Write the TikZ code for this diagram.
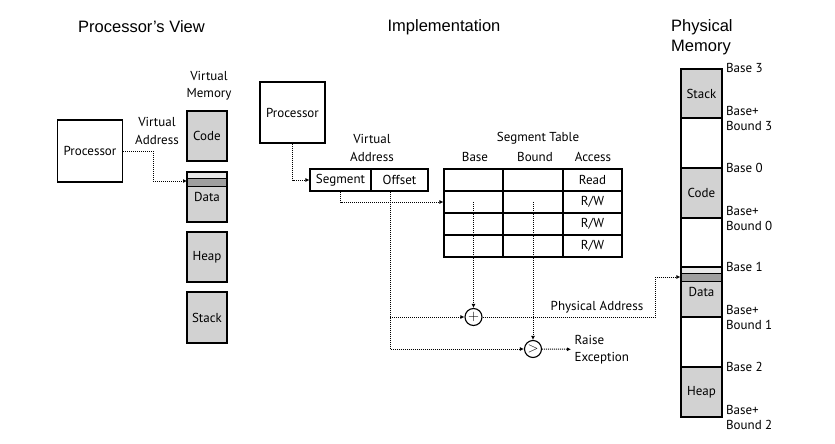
\documentclass[tikz,border=0pt]{standalone}
\usepackage{fontspec}
\setmainfont{PT Sans}
\newfontfamily\titlefont{Liberation Sans}
\usetikzlibrary{arrows.meta}
\tikzstyle{box}=[rectangle, draw, line width=1.1pt, minimum width=65pt, minimum height=62pt, inner sep=0pt]
\tikzstyle{field}=[rectangle, draw, line width=1.1pt, minimum height=22pt, inner sep=0pt]
\tikzstyle{cell}=[rectangle, draw, line width=1.1pt, minimum height=22pt, inner sep=0pt]
\tikzstyle{seg}=[rectangle, draw, fill=gray!35, line width=1.1pt, minimum width=40pt, minimum height=50pt, inner sep=0pt]
\tikzstyle{free}=[seg, fill=white]
\tikzstyle{dataseg}=[seg, path picture={
    \fill[gray!18] (path picture bounding box.north west) rectangle ([yshift=-6pt]path picture bounding box.north east);
    \fill[gray!75] ([yshift=-6pt]path picture bounding box.north west) rectangle ([yshift=-14pt]path picture bounding box.north east);
    \draw[line width=0.6pt] ([yshift=-6pt]path picture bounding box.north west) -- ([yshift=-6pt]path picture bounding box.north east)
      ([yshift=-14pt]path picture bounding box.north west) -- ([yshift=-14pt]path picture bounding box.north east);
  }]
\tikzstyle{op}=[circle, draw, line width=1.1pt, minimum size=17pt, inner sep=0pt]
\tikzstyle{link}=[densely dotted, line width=1pt, -{Latex[length=4pt,width=4pt]}]
\tikzstyle{lbl}=[font=\fontsize{13}{17.5}\selectfont, align=center]
\tikzstyle{mlbl}=[font=\fontsize{13}{14.5}\selectfont, anchor=west, align=left]
\tikzstyle{title}=[font=\titlefont\fontsize{16.5}{20}\selectfont, inner sep=0pt]

\begin{document}
\begin{tikzpicture}[x=1pt, y=-1pt, every node/.style={font=\fontsize{13}{17.5}\selectfont}]
    \useasboundingbox[fill=white] (0,0) rectangle (835,444);

    % headings
    \node[title] (tview) at (141.5,27) {Processor’s View};
    \node[title] (timpl) at (444,27) {Implementation};
    \node[title, anchor=west, align=left] (tphys) at (671,37) {Physical\\Memory};

    % processor's view
    \node[box] (lproc) at (90,151) {Processor};
    \node[lbl] (lva) at (157,131) {Virtual\\Address};
    \node[lbl] (lvm) at (209,85.5) {Virtual\\Memory};
    \node[seg] (vcode) at (207,136) {Code};
    \node[dataseg] (vdata) at (207,197) {\raisebox{-6pt}{Data}};
    \node[seg] (vheap) at (207,257) {Heap};
    \node[seg, minimum height=51pt] (vstack) at (207,317.5) {Stack};
    \coordinate (vin) at (187,181);
    \draw[link] (lproc) -| ([xshift=-34pt]vin) -- (vin);

    % implementation
    \node[box, minimum height=61pt] (mproc) at (292.5,112.5) {Processor};
    \node[lbl] (mva) at (372,148) {Virtual\\Address};
    \node[field, minimum width=61pt] (seg) at (340.5,180) {Segment};
    \node[field, minimum width=57pt] (off) at (399.5,180) {Offset};
    \draw[link] (mproc) |- (seg);

    \node[lbl] (tseg) at (538,138) {Segment Table};
    \node[lbl] (hbase) at (475,157) {Base};
    \node[lbl] (hbound) at (535,157) {Bound};
    \node[lbl] (hacc) at (593,157) {Access};
    \foreach \r/\acc in {1/Read, 2/{R/W}, 3/{R/W}, 4/{R/W}} {
        \node[cell, minimum width=59pt] (b\r) at (473.5, 158+22*\r) {};
        \node[cell, minimum width=60pt] (d\r) at (533, 158+22*\r) {};
        \node[cell, minimum width=59pt] (a\r) at (592.5, 158+22*\r) {\acc};
    }
    \draw[link] (seg.south) |- (b2.west);

    \node[op] (plus) at (473.5,317) {\Large$\mathbf{+}$};
    \node[op] (cmp) at (533,349) {\Large$\mathbf{>}$};
    \coordinate (ofs) at ([xshift=-9.5pt]off.south);
    \draw[link] (b2.center) -- (plus);
    \draw[link] (d2.center) -- (cmp);
    \draw[link] (ofs) |- (cmp);
    \draw[link] (ofs |- plus) -- (plus);

    \node[lbl] (paddr) at (597,307) {Physical Address};
    \node[lbl, anchor=west, align=left] (raise) at (571,349.5) {Raise\\Exception};
    \draw[link] (cmp) -- (raise);

    % physical memory
    \node[seg, minimum width=41pt, minimum height=49pt] (pstack) at (701.5,93.5) {Stack};
    \node[free, minimum width=41pt] (pfree1) at (701.5,143) {};
    \node[seg, minimum width=41pt] (pcode) at (701.5,193) {Code};
    \node[free, minimum width=41pt, minimum height=49pt] (pfree2) at (701.5,242.5) {};
    \node[dataseg, minimum width=41pt] (pdata) at (701.5,292) {\raisebox{-5pt}{Data}};
    \node[free, minimum width=41pt] (pfree3) at (701.5,342) {};
    \node[seg, minimum width=41pt] (pheap) at (701.5,392) {Heap};
    \foreach \s/\n in {pstack/3, pcode/0, pdata/1, pheap/2} {
        \node[mlbl] (base\n) at (\s.north east) {Base \n};
        \node[mlbl] (bnd\n) at (\s.south east) {Base+\\Bound \n};
    }
    \coordinate (pin) at ([yshift=15pt]pdata.west);
    \draw[link] (plus) -| ([xshift=-25pt]pin) -- (pin);
\end{tikzpicture}
\end{document}
